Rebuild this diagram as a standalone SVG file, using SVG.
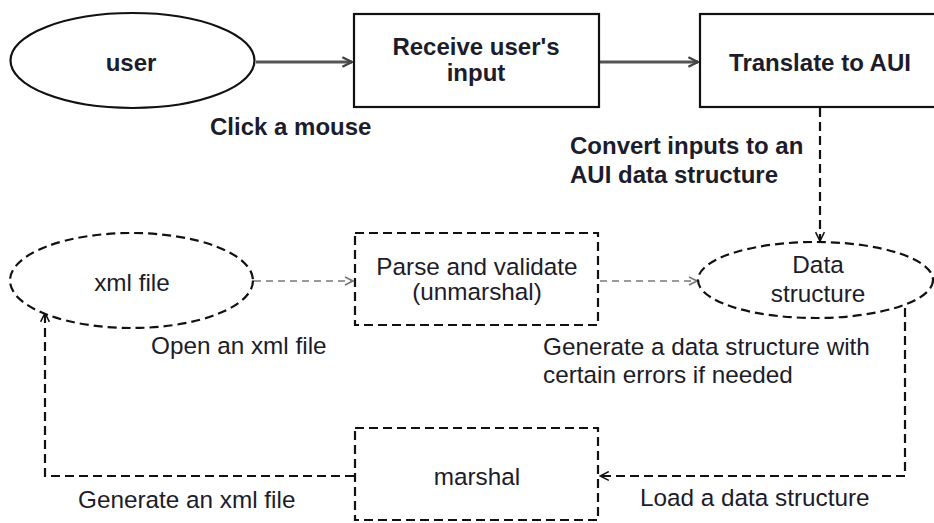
<svg xmlns="http://www.w3.org/2000/svg" width="934" height="523" viewBox="0 0 934 523">
<style>
.solid{fill:#fff;stroke:#111;stroke-width:2.2}
.dash{fill:#fff;stroke:#111;stroke-width:2.2;stroke-dasharray:9 5}
.b{font-family:"Liberation Sans",Arial,sans-serif;font-weight:bold;font-size:24px;fill:#1c1c2a}
.r{font-family:"Liberation Sans",Arial,sans-serif;font-size:24.3px;fill:#1c1c2a}
.m{text-anchor:middle}
.top{fill:none;stroke:#555;stroke-width:3}
.mid{fill:none;stroke:#9a9a9a;stroke-width:2;stroke-dasharray:7 5}
.blk{fill:none;stroke:#111;stroke-width:2.2;stroke-dasharray:9 5}
</style>
<defs>
<marker id="ag" viewBox="0 0 10 10" refX="9" refY="5" markerWidth="4" markerHeight="4" orient="auto" markerUnits="strokeWidth">
<path d="M1,1 L9,5 L1,9" fill="none" stroke="#444" stroke-width="2"/>
</marker>
<marker id="am" viewBox="0 0 10 10" refX="9" refY="5" markerWidth="5" markerHeight="5" orient="auto" markerUnits="strokeWidth">
<path d="M1,1 L9,5 L1,9" fill="none" stroke="#777" stroke-width="1.6"/>
</marker>
<marker id="ab" viewBox="0 0 10 10" refX="9" refY="5" markerWidth="5" markerHeight="5" orient="auto" markerUnits="strokeWidth">
<path d="M1,1 L9,5 L1,9" fill="none" stroke="#111" stroke-width="1.4"/>
</marker>
</defs>
<g id="connectors">
<line class="top" x1="256" y1="62" x2="352" y2="62" marker-end="url(#ag)"/>
<line class="top" x1="600" y1="62" x2="698" y2="62" marker-end="url(#ag)"/>
<line class="blk" x1="820" y1="108" x2="820" y2="241" marker-end="url(#ab)"/>
<line class="mid" x1="254" y1="281" x2="353" y2="281" marker-end="url(#am)"/>
<line class="mid" x1="600" y1="281" x2="697" y2="281" marker-end="url(#am)"/>
<polyline class="blk" points="905,308 905,476 600,476" marker-end="url(#ab)"/>
<polyline class="blk" points="354,476 45,476 45,313" marker-end="url(#ab)"/>
</g>
<g id="user">
<ellipse class="solid" cx="132.5" cy="60.5" rx="122" ry="47.5"/>
<text class="b m" x="131" y="71">user</text>
</g>
<g id="receive">
<rect class="solid" x="354" y="14" width="245" height="93"/>
<text class="b m" x="476" y="55">Receive user's</text>
<text class="b m" x="476" y="81">input</text>
</g>
<g id="translate">
<rect class="solid" x="700" y="14" width="240" height="93"/>
<text class="b m" x="820" y="71">Translate to AUI</text>
</g>
<g id="xmlfile">
<ellipse class="dash" cx="131.5" cy="280.5" rx="121.5" ry="47.5"/>
<text class="r m" x="132" y="291">xml file</text>
</g>
<g id="parse">
<rect class="dash" x="355" y="233" width="243" height="92"/>
<text class="r m" x="477" y="275">Parse and validate</text>
<text class="r m" x="477" y="300">(unmarshal)</text>
</g>
<g id="datastructure">
<ellipse class="dash" cx="815.5" cy="280" rx="117.5" ry="38"/>
<text class="r m" x="818" y="273">Data</text>
<text class="r m" x="818" y="302">structure</text>
</g>
<g id="marshal">
<rect class="dash" x="355" y="428" width="243" height="92"/>
<text class="r m" x="477" y="485">marshal</text>
</g>
<g id="labels">
<text class="b" x="210" y="135">Click a mouse</text>
<text class="b" x="570" y="154">Convert inputs to an</text>
<text class="b" x="570" y="183">AUI data structure</text>
<text class="r" x="151" y="354">Open an xml file</text>
<text class="r" x="543" y="355">Generate a data structure with</text>
<text class="r" x="543" y="383">certain errors if needed</text>
<text class="r" x="78" y="508">Generate an xml file</text>
<text class="r" x="640" y="506">Load a data structure</text>
</g>
</svg>
